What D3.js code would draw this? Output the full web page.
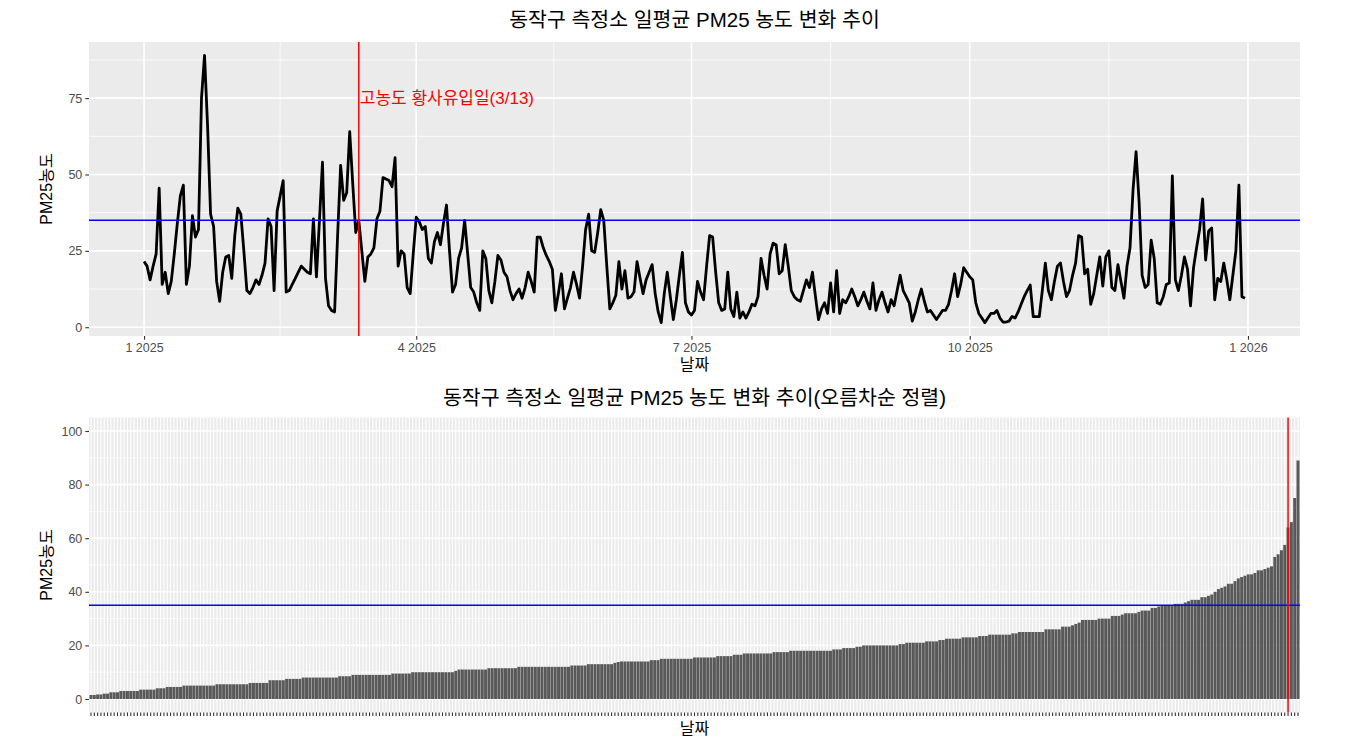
<!DOCTYPE html>
<html>
<head>
<meta charset="utf-8">
<script src="https://cdn.jsdelivr.net/npm/d3@7"></script>
<style>
  body { margin: 0; background: #fff; }
  text { font-family: "Liberation Sans", "Noto Sans CJK KR", sans-serif; }
</style>
</head>
<body>
<svg id="chart" width="1360" height="755"></svg>
<script>
// 월별 일평균 PM25 (2025)
var jan = [21.5, 20, 15.5, 20, 24, 45.5, 14, 18, 11, 15, 24, 34, 43, 46.5, 14, 20, 36.5, 29.5, 32, 75, 89, 66, 37, 33, 15, 8.5, 18, 23, 23.5, 16, 30];
var feb = [39, 37, 25, 12, 11, 13, 15.5, 14, 17, 21, 35.5, 33, 12, 38, 43, 48, 11.5, 12, 14, 16, 18, 20, 19, 18, 17.5, 35.5, 16.5, 35];
var mar = [54, 16, 7, 5.5, 5, 30, 53, 41.5, 44, 64, 47, 31, 35, 25, 15, 23, 24, 26, 35.5, 38, 49, 48.5, 48, 46, 55.5, 20, 25, 24, 13, 11, 24];
var apr = [36, 34.5, 32, 33, 22.5, 21, 28, 31, 27, 34, 40, 25, 11.5, 14, 22.5, 26, 35, 24, 13, 11.5, 8, 5.5, 25, 22.5, 12, 8, 15, 23.5, 22, 18];
var may = [16.5, 12, 9, 11, 12.5, 9.5, 13, 18, 15, 11.5, 29.5, 29.5, 26, 23.5, 21.5, 19, 5.5, 11, 17.5, 6, 9.5, 13, 18, 14, 9.5, 20, 32, 37, 25, 24.5, 31];
var jun = [38.5, 35, 20, 6, 8, 10.5, 21.5, 12.5, 18.5, 9.5, 10, 11.5, 21.5, 16, 11, 15.5, 18, 20.5, 11, 5, 1.5, 11, 18, 10, 2.5, 9, 17, 24.5, 8, 5];
var jul = [4, 5.5, 15, 11.5, 9, 20, 30, 29.5, 18, 8, 5.5, 6, 18, 6, 3.5, 11.5, 3, 5, 3, 5, 7.5, 7, 10, 22.5, 17, 12.5, 24, 27.5, 27, 17.5, 18.5];
var aug = [27, 20, 12, 10, 9, 8.5, 12, 15.5, 13, 18, 10, 2.5, 6, 8, 4.5, 14.5, 5, 18.5, 4.5, 9, 8, 10, 12.5, 10, 7, 9, 11.5, 8.5, 6, 14.5, 5.5];
var sep = [9, 11.5, 8, 5, 9, 7, 12, 17, 12, 10, 8, 2, 5, 9, 12.5, 8.5, 5, 5.5, 4, 2.5, 4, 5.5, 5.5, 7.5, 12, 17.5, 10, 14, 19.5, 18];
var oct = [16.5, 15.5, 8, 4.5, 3, 1.5, 3, 4.5, 4.5, 5.5, 3, 1.7, 1.7, 2, 3.5, 3, 5, 7.5, 10, 12, 13.8, 3.5, 3.5, 3.5, 12, 21, 12, 9, 15, 20, 21];
var nov = [15, 10, 12, 17, 21, 30, 29.5, 17.5, 19, 7.5, 11, 17, 23, 13.5, 23, 25, 13, 12, 20.5, 15, 9.5, 20, 26, 45, 57.5, 41, 17, 13, 14, 28.5];
var dec = [22.5, 8, 7.5, 10, 14, 14.5, 49.5, 15.5, 12, 17, 23, 19, 7, 19.5, 26, 32, 42, 22, 31.5, 32.5, 9, 16, 15, 21, 15.5, 9, 17, 25, 46.5, 10, 9.5];

var xTickDates = ["2025-01-01", "2025-04-01", "2025-07-01", "2025-10-01", "2026-01-01"];
var yTicksTop = [0, 25, 50, 75];
var yTicksBottom = [0, 20, 40, 60, 80, 100];
var threshold = 35;
var dustDay = "2025-03-13";
var dustLabel = "고농도 황사유입일(3/13)";
var highlightRank = 4;   // 정렬 그래프에서 표시할 막대 (상위 n번째)

var values = [].concat(jan, feb, mar, apr, may, jun, jul, aug, sep, oct, nov, dec);
var parse = d3.timeParse("%Y-%m-%d");
var dates = d3.timeDay.range(parse("2025-01-01"), parse("2026-01-01"));
var data = dates.map(function(d, i) { return { date: d, v: values[i] }; });

var svg = d3.select("#chart");
var GRID = "#EBEBEB", TXT = "#4D4D4D";
var left = 89, right = 1300;

function title(str, y) {
  svg.append("text").attr("x", (left + right) / 2).attr("y", y)
    .attr("text-anchor", "middle").attr("font-size", 20.5).attr("fill", "#000").text(str);
}
function axisTitles(cy, xy) {
  svg.append("text").attr("x", (left + right) / 2).attr("y", xy)
    .attr("text-anchor", "middle").attr("font-size", 16).attr("fill", "#000").text("날짜");
  svg.append("text").attr("transform", "translate(52," + cy + ") rotate(-90)")
    .attr("text-anchor", "middle").attr("font-size", 16).attr("fill", "#000").text("PM25농도");
}
function styleAxis(g) {
  g.select(".domain").remove();
  g.selectAll(".tick line").attr("stroke", "#333").attr("stroke-width", 1.1);
  g.selectAll(".tick text").attr("fill", TXT).attr("font-size", 12.5)
    .attr("font-family", "\"Liberation Sans\", \"Noto Sans CJK KR\", sans-serif");
}

//------------------------- 위: 일별 추이 -------------------------
var top1 = 42, bot1 = 336;
var t0 = dates[0], t1 = dates[dates.length - 1];
var span = t1 - t0;
var x1 = d3.scaleTime()
  .domain([new Date(+t0 - span * 0.05), new Date(+t1 + span * 0.05)])
  .range([left, right]);
var vmin = d3.min(values), vmax = d3.max(values), vr = vmax - vmin;
var y1 = d3.scaleLinear().domain([vmin - vr * 0.05, vmax + vr * 0.05]).range([bot1, top1]);

var g1 = svg.append("g");
g1.append("rect").attr("x", left).attr("y", top1).attr("width", right - left)
  .attr("height", bot1 - top1).attr("fill", GRID);

var majX = xTickDates.map(parse);
var minX = d3.pairs(majX).map(function(p) { return new Date((+p[0] + +p[1]) / 2); });
var minY = d3.pairs(yTicksTop).map(function(p) { return (p[0] + p[1]) / 2; });
minY.push(87.5);

g1.selectAll(".minx").data(minX).enter().append("line")
  .attr("x1", x1).attr("x2", x1).attr("y1", top1).attr("y2", bot1)
  .attr("stroke", "#fff").attr("stroke-width", 0.8);
g1.selectAll(".miny").data(minY).enter().append("line")
  .attr("x1", left).attr("x2", right).attr("y1", y1).attr("y2", y1)
  .attr("stroke", "#fff").attr("stroke-width", 0.8);
g1.selectAll(".majx").data(majX).enter().append("line")
  .attr("x1", x1).attr("x2", x1).attr("y1", top1).attr("y2", bot1)
  .attr("stroke", "#fff").attr("stroke-width", 1.6);
g1.selectAll(".majy").data(yTicksTop).enter().append("line")
  .attr("x1", left).attr("x2", right).attr("y1", y1).attr("y2", y1)
  .attr("stroke", "#fff").attr("stroke-width", 1.6);

g1.append("path").datum(data)
  .attr("d", d3.line().x(function(d) { return x1(d.date); }).y(function(d) { return y1(d.v); }))
  .attr("fill", "none").attr("stroke", "#000").attr("stroke-width", 2.8)
  .attr("stroke-linejoin", "round");

g1.append("line").attr("x1", left).attr("x2", right)
  .attr("y1", y1(threshold)).attr("y2", y1(threshold))
  .attr("stroke", "#0000FF").attr("stroke-width", 1.5);
var dx = x1(parse(dustDay));
g1.append("line").attr("x1", dx).attr("x2", dx).attr("y1", top1).attr("y2", bot1)
  .attr("stroke", "#FF0000").attr("stroke-width", 1.5);
g1.append("text").attr("x", dx + 1).attr("y", y1(75) + 6)
  .attr("font-size", 17).attr("fill", "#FF0000").text(dustLabel);

var ax1 = g1.append("g").attr("transform", "translate(0," + bot1 + ")")
  .call(d3.axisBottom(x1).tickValues(majX).tickFormat(d3.timeFormat("%-m %Y"))
    .tickSize(3.7).tickPadding(3));
styleAxis(ax1);
var ay1 = g1.append("g").attr("transform", "translate(" + left + ",0)")
  .call(d3.axisLeft(y1).tickValues(yTicksTop).tickSize(3.7).tickPadding(3));
styleAxis(ay1);

title("동작구 측정소 일평균 PM25 농도 변화 추이", 27);
axisTitles((top1 + bot1) / 2, 370);

//------------------------- 아래: 오름차순 막대 -------------------------
var top2 = 417.6, bot2 = 712.4;
var sorted = data.slice().sort(function(a, b) { return a.v - b.v; });
var n = sorted.length;
var x2 = d3.scaleLinear().domain([0.4, n + 0.6]).range([left, right]);
var y2 = d3.scaleLinear().domain([-5, 105]).range([bot2, top2]);

var g2 = svg.append("g");
g2.append("rect").attr("x", left).attr("y", top2).attr("width", right - left)
  .attr("height", bot2 - top2).attr("fill", GRID);
var minY2 = d3.pairs(yTicksBottom).map(function(p) { return (p[0] + p[1]) / 2; });
g2.selectAll(".miny").data(minY2).enter().append("line")
  .attr("x1", left).attr("x2", right).attr("y1", y2).attr("y2", y2)
  .attr("stroke", "#fff").attr("stroke-width", 0.8);
g2.selectAll(".majy").data(yTicksBottom).enter().append("line")
  .attr("x1", left).attr("x2", right).attr("y1", y2).attr("y2", y2)
  .attr("stroke", "#fff").attr("stroke-width", 1.6);
g2.selectAll(".majx").data(sorted).enter().append("line")
  .attr("x1", function(d, i) { return x2(i + 1); })
  .attr("x2", function(d, i) { return x2(i + 1); })
  .attr("y1", top2).attr("y2", bot2)
  .attr("stroke", "#fff").attr("stroke-width", 1.1);

g2.selectAll(".bar").data(sorted).enter().append("rect")
  .attr("x", function(d, i) { return x2(i + 1 - 0.45); })
  .attr("width", x2(1.9) - x2(1))
  .attr("y", function(d) { return y2(d.v); })
  .attr("height", function(d) { return y2(0) - y2(d.v); })
  .attr("fill", "#595959");

g2.append("line").attr("x1", left).attr("x2", right)
  .attr("y1", y2(threshold)).attr("y2", y2(threshold))
  .attr("stroke", "#0000FF").attr("stroke-width", 1.5);
var hx = x2(n - highlightRank + 1);
g2.append("line").attr("x1", hx).attr("x2", hx).attr("y1", top2).attr("y2", bot2)
  .attr("stroke", "#FF0000").attr("stroke-width", 1.5);

// x축: 날짜 라벨 없이 눈금만
g2.selectAll(".xtick").data(sorted).enter().append("line")
  .attr("x1", function(d, i) { return x2(i + 1); })
  .attr("x2", function(d, i) { return x2(i + 1); })
  .attr("y1", bot2).attr("y2", bot2 + 3.7)
  .attr("stroke", "#333").attr("stroke-width", 1.1);
var ay2 = g2.append("g").attr("transform", "translate(" + left + ",0)")
  .call(d3.axisLeft(y2).tickValues(yTicksBottom).tickSize(3.7).tickPadding(3));
styleAxis(ay2);

title("동작구 측정소 일평균 PM25 농도 변화 추이(오름차순 정렬)", 405);
axisTitles((top2 + bot2) / 2, 734);
</script>
</body>
</html>
